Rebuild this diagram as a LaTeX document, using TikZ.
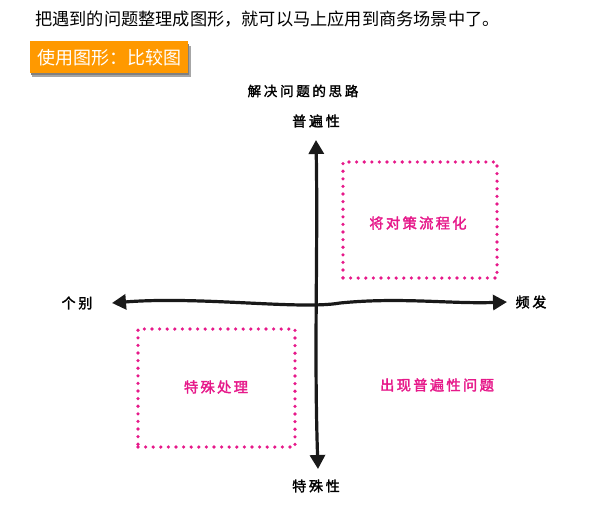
\documentclass[tikz,border=0pt]{standalone}
\usepackage{fontspec}
\usetikzlibrary{arrows.meta,shadows}
\newfontfamily\cjk{Noto Sans CJK SC}
\newfontfamily\cjkhand[LetterSpace=20,FakeBold=2]{Noto Sans CJK SC}
\newfontfamily\cjkpink[LetterSpace=16,FakeBold=2.2]{Noto Sans CJK SC}
\definecolor{hotpink}{HTML}{E6198A}
\definecolor{tagorange}{HTML}{FF9900}
\begin{document}
\begin{tikzpicture}[x=1pt,y=-1pt,
  axis/.style={line width=3.2pt,line cap=round,black!90,
     {Triangle[length=14pt,width=15pt]}-{Triangle[length=14pt,width=15pt]}},
  axlabel/.style={font=\cjkhand\fontsize{14}{16}\selectfont,inner sep=0pt},
  dotbox/.style={draw=hotpink,line width=3.6pt,line cap=round,dash pattern=on 0pt off 7.6pt,
     minimum width=#1,inner sep=0pt},
  pinktext/.style={text=hotpink,font=\cjkpink\fontsize{14.3}{16}\selectfont,inner sep=0pt}]
\useasboundingbox (0,0) rectangle (602,512);
% header sentence
\node[anchor=west,inner sep=0pt,font=\cjk\fontsize{17.2}{19}\selectfont] (intro) at (35,19)
  {把遇到的问题整理成图形，就可以马上应用到商务场景中了。};
% orange tag with shadow
\fill[black!35] (32,46) rectangle (191,77);
\fill[black!50] (31,44) rectangle (189,75);
\node[fill=tagorange,text=white,anchor=north west,minimum width=158pt,minimum height=32pt,inner sep=0pt,
  font=\cjk\fontsize{18}{20}\selectfont] (tag) at (30,41) {使用图形：比较图};
% title of chart
\node[axlabel,font=\cjkhand\fontsize{13.5}{15}\selectfont] (title) at (303,91) {解决问题的思路};
% axis ends
\coordinate (T) at (316,140);
\coordinate (B) at (318,469);
\coordinate (L) at (112,303);
\coordinate (R) at (507,302);
\draw[axis] (T) .. controls (318,250) and (314,350) .. (B);
\draw[axis] (L) .. controls (200,296) and (300,310) .. (340,303)
               .. controls (400,297) and (450,304) .. (R);
% axis labels
\node[axlabel] (top) at (316,121) {普遍性};
\node[axlabel] (bot) at (316,486) {特殊性};
\node[axlabel] (left) at (77,303) {个别};
\node[axlabel] (right) at (531,302) {频发};
% dotted boxes
\node[dotbox=154pt,minimum height=116pt] (q1) at (420,220) {};
\node[pinktext] (q1t) at (418,223) {将对策流程化};
\node[dotbox=157pt,minimum height=118pt] (q3) at (216.5,388) {};
\node[pinktext] (q3t) at (216,387) {特殊处理};
\node[pinktext] (q4t) at (437,385) {出现普遍性问题};
\end{tikzpicture}
\end{document}
